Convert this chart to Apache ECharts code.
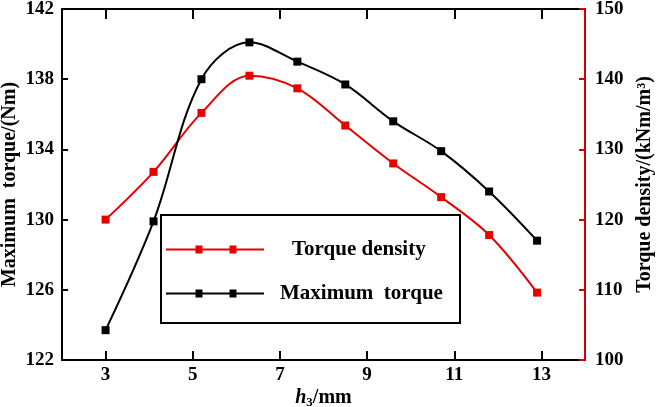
<!DOCTYPE html>
<html>
<head>
<meta charset="utf-8">
<script src="https://cdn.jsdelivr.net/npm/echarts@6/dist/echarts.min.js"></script>
<style>
  html, body { margin: 0; padding: 0; background: #fff; }
  #chart { width: 657px; height: 407px; }
</style>
</head>
<body>
<div id="chart"></div>
<script>
// h3 (mm) positions
var hValues = [3, 4.1, 5.2, 6.3, 7.4, 8.5, 9.6, 10.7, 11.8, 12.9];
// Maximum torque (Nm), left axis
var maxTorque = [123.7, 129.9, 138.0, 140.1, 139.0, 137.7, 135.6, 133.9, 131.6, 128.8];
// Torque density (kNm/m3), right axis
var torqueDensity = [120.0, 126.8, 135.2, 140.5, 138.7, 133.4, 128.0, 123.2, 117.8, 109.6];
var xTicks = [3, 5, 7, 9, 11, 13];

var FONT = '"Liberation Serif", "Times New Roman", serif';
var RED = '#e60000';
var legendIcon = 'path://M0,3.5H98V5.5H0Z M29.5,0.5H36.5V8.5H29.5Z M63.5,0.5H70.5V8.5H63.5Z';

function pairs(xs, ys) {
    return xs.map(function (x, i) { return [x, ys[i]]; });
}

var chart = echarts.init(document.getElementById('chart'));

var option = {
    backgroundColor: '#fff',
    animation: false,
    grid: { left: 62, right: 72, top: 9, bottom: 47, outerBoundsMode: 'none' },
    graphic: [{
        type: 'rect',
        z: 3,
        shape: { x: 161, y: 215, width: 299, height: 108 },
        style: { fill: 'none', stroke: '#000', lineWidth: 2 }
    }],
    legend: {
        orient: 'vertical',
        left: 166,
        top: 239,
        padding: 0,
        itemWidth: 98,
        itemHeight: 9,
        itemGap: 23,
        textStyle: { fontFamily: FONT, fontWeight: 'bold', fontSize: 21, color: '#000' },
        data: [
            { name: 'Torque density', icon: legendIcon, textStyle: { padding: [0, 0, 0, 23] } },
            { name: 'Maximum  torque', icon: legendIcon, textStyle: { padding: [0, 0, 0, 11] } }
        ]
    },
    xAxis: [{
        type: 'value',
        min: 2,
        max: 14,
        name: '{i|h}{s|3}{n|/mm}',
        nameLocation: 'middle',
        nameGap: 27,
        nameMoveOverlap: false,
        nameTextStyle: {
            rich: {
                i: { fontFamily: FONT, fontWeight: 'bold', fontStyle: 'italic', fontSize: 20, color: '#000' },
                s: { fontFamily: FONT, fontWeight: 'bold', fontSize: 13, color: '#000', verticalAlign: 'bottom', padding: [9, 0, 0, 0] },
                n: { fontFamily: FONT, fontWeight: 'bold', fontSize: 20, color: '#000' }
            }
        },
        axisLine: { onZero: false, lineStyle: { color: '#000', width: 2 } },
        axisTick: { inside: true, length: 9, customValues: xTicks, lineStyle: { color: '#000', width: 2 } },
        axisLabel: { customValues: xTicks, margin: 6, fontFamily: FONT, fontWeight: 'bold', fontSize: 19, color: '#000' },
        splitLine: { show: false }
    }, {
        type: 'value',
        position: 'top',
        min: 2,
        max: 14,
        axisLine: { onZero: false, lineStyle: { color: '#000', width: 2 } },
        axisTick: { inside: true, length: 10, customValues: xTicks, lineStyle: { color: '#000', width: 2 } },
        axisLabel: { show: false },
        splitLine: { show: false }
    }],
    yAxis: [{
        type: 'value',
        min: 122,
        max: 142,
        interval: 4,
        name: 'Maximum  torque/(Nm)',
        nameLocation: 'middle',
        nameGap: 42,
        nameMoveOverlap: false,
        nameTextStyle: { fontFamily: FONT, fontWeight: 'bold', fontSize: 20, color: '#000' },
        axisLine: { show: true, lineStyle: { color: '#000', width: 2 } },
        axisTick: { inside: true, length: 6, lineStyle: { color: '#000', width: 2 } },
        axisLabel: { margin: 8, fontFamily: FONT, fontWeight: 'bold', fontSize: 19, color: '#000' },
        splitLine: { show: false }
    }, {
        type: 'value',
        position: 'right',
        min: 100,
        max: 150,
        interval: 10,
        name: 'Torque density/(kNm/m³)',
        nameLocation: 'middle',
        nameRotate: 90,
        nameGap: 42,
        nameTextStyle: { fontFamily: FONT, fontWeight: 'bold', fontSize: 20, color: '#000' },
        axisLine: { show: true, lineStyle: { color: '#d40000', width: 2 } },
        axisTick: { inside: true, length: 6, lineStyle: { color: '#d40000', width: 2 } },
        axisLabel: { margin: 10, fontFamily: FONT, fontWeight: 'bold', fontSize: 19, color: '#000' },
        splitLine: { show: false }
    }],
    series: [{
        name: 'Torque density',
        type: 'line',
        yAxisIndex: 1,
        smooth: 0.35,
        symbol: 'rect',
        symbolSize: 8,
        color: RED,
        lineStyle: { width: 2, color: RED },
        itemStyle: { color: RED },
        data: pairs(hValues, torqueDensity)
    }, {
        name: 'Maximum  torque',
        type: 'line',
        yAxisIndex: 0,
        smooth: 0.35,
        symbol: 'rect',
        symbolSize: 8,
        color: '#000',
        lineStyle: { width: 2, color: '#000' },
        itemStyle: { color: '#000' },
        data: pairs(hValues, maxTorque)
    }]
};

chart.setOption(option);
</script>
</body>
</html>
